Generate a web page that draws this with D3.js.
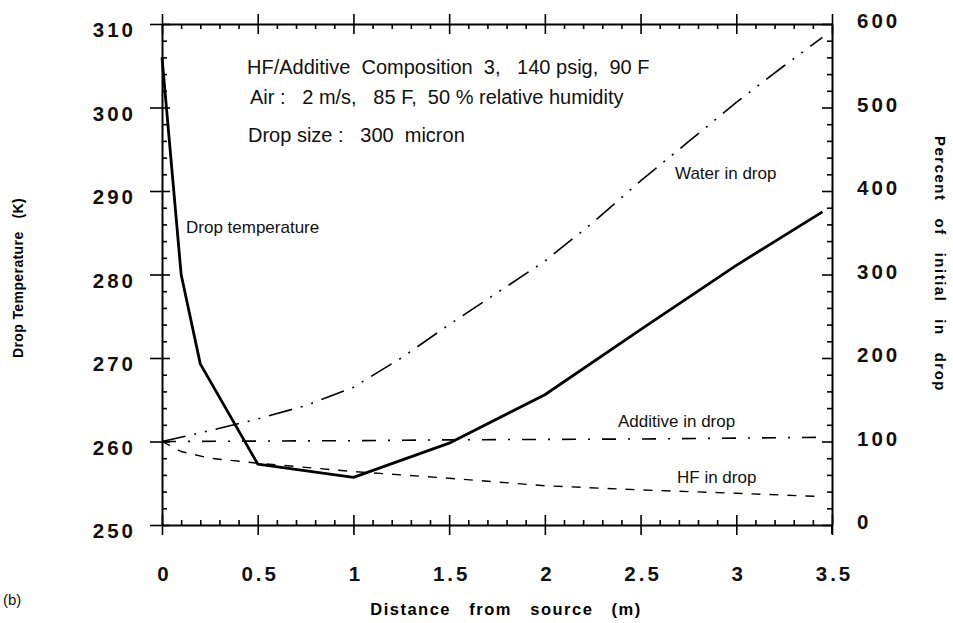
<!DOCTYPE html>
<html><head><meta charset="utf-8">
<script src="https://cdn.jsdelivr.net/npm/d3@7"></script>
<style>
body{margin:0;background:#fff;}
svg{display:block;font-family:"Liberation Sans",Arial,sans-serif;}
.tick text{font-family:"Liberation Sans",Arial,sans-serif;}
</style></head><body>
<svg id="c" width="953" height="623"></svg>
<script>
// ---- data ----
const xTicks = [0, 0.5, 1, 1.5, 2, 2.5, 3, 3.5];
const xTickLabels = ["0", "0.5", "1", "1.5", "2", "2.5", "3", "3.5"];
const leftTicks = [250, 260, 270, 280, 290, 300, 310];
const rightTicks = [0, 100, 200, 300, 400, 500, 600];

const tempX = [0, 0.1, 0.2, 0.5, 1.0, 1.5, 2.0, 2.5, 3.0, 3.45];
const tempY = [306, 280, 269.3, 257.3, 255.7, 259.8, 265.6, 273.4, 281.1, 287.5];

const waterX = [0, 0.25, 0.5, 0.75, 1.0, 1.25, 1.5, 1.75, 2.0, 2.25, 2.5, 2.75, 3.0, 3.25, 3.45];
const waterY = [100, 113, 127, 143, 165, 200, 240, 278, 316, 362, 412, 459, 506, 550, 584];

const addX = [0, 0.5, 1.0, 1.5, 2.0, 2.5, 3.0, 3.45];
const addY = [100, 100.5, 101, 102, 102.5, 103, 104, 105];

const hfX = [0, 0.1, 0.25, 0.5, 1.0, 1.5, 2.0, 2.5, 3.0, 3.45];
const hfY = [100, 88, 80, 74, 64, 56, 47, 42, 38, 34];

const annoLines = ["HF/Additive  Composition  3,   140 psig,  90 F",
                   "Air :   2 m/s,   85 F,  50 % relative humidity",
                   "Drop size :   300  micron"];

const nb = s => s.replace(/ /g, "\u00a0");

// ---- scales ----
const svg = d3.select("#c");
const x = d3.scaleLinear().domain([0, 3.5]).range([162, 832]);
const yL = d3.scaleLinear().domain([250, 310]).range([525, 24]);
const yR = d3.scaleLinear().domain([0, 600]).range([525, 24]);

const minorX = d3.range(0, 3.5001, 0.1).filter(v => Math.abs(v*2 - Math.round(v*2)) > 1e-6);
const minorL = d3.range(250, 310.001, 2).filter(v => v % 10 !== 0);
const minorR = d3.range(0, 600.001, 20).filter(v => v % 100 !== 0);

function styleAxis(g){
  g.select(".domain").attr("stroke","#000").attr("stroke-width",2);
  g.selectAll(".tick line").attr("stroke","#000").attr("stroke-width",1.6);
}
function noText(g){ g.selectAll("text").remove(); g.select(".domain").remove(); }

const tickFont = g => g.selectAll("text").attr("font-size",20.5).attr("font-weight","bold")
   .attr("fill","#111").style("letter-spacing","3px");

// bottom axis
svg.append("g").attr("transform",`translate(0,${yL(250)})`)
  .call(d3.axisBottom(x).tickValues(xTicks).tickFormat((d,i)=>xTickLabels[i]).tickSize(10).tickPadding(31).tickSizeOuter(0))
  .call(styleAxis).call(tickFont)
  .call(g=>g.selectAll("text").attr("dx","2"));
svg.append("g").attr("transform",`translate(0,${yL(250)})`)
  .call(d3.axisTop(x).tickValues(xTicks).tickSize(10)).call(noText).call(styleAxis);
svg.append("g").attr("transform",`translate(0,${yL(250)})`)
  .call(d3.axisTop(x).tickValues(minorX).tickSize(5)).call(noText).call(styleAxis);

// top axis
svg.append("g").attr("transform",`translate(0,${yL(310)})`)
  .call(d3.axisTop(x).tickValues(xTicks).tickSize(10).tickSizeOuter(0)).call(g=>g.selectAll("text").remove()).call(styleAxis);
svg.append("g").attr("transform",`translate(0,${yL(310)})`)
  .call(d3.axisBottom(x).tickValues(xTicks).tickSize(10)).call(noText).call(styleAxis);
svg.append("g").attr("transform",`translate(0,${yL(310)})`)
  .call(d3.axisBottom(x).tickValues(minorX).tickSize(5)).call(noText).call(styleAxis);

// left axis
svg.append("g").attr("transform",`translate(${x(0)},0)`)
  .call(d3.axisLeft(yL).tickValues(leftTicks).tickSize(12).tickPadding(14).tickSizeOuter(0))
  .call(styleAxis).call(tickFont)
  .call(g=>g.selectAll("text").attr("y",6));
svg.append("g").attr("transform",`translate(${x(0)},0)`)
  .call(d3.axisRight(yL).tickValues(leftTicks).tickSize(8)).call(noText).call(styleAxis);
svg.append("g").attr("transform",`translate(${x(0)},0)`)
  .call(d3.axisRight(yL).tickValues(minorL).tickSize(5)).call(noText).call(styleAxis);

// right axis
svg.append("g").attr("transform",`translate(${x(3.5)},0)`)
  .call(d3.axisRight(yR).tickValues(rightTicks).tickSize(0).tickPadding(25).tickSizeOuter(0))
  .call(styleAxis).call(tickFont)
  .call(g=>g.selectAll("text").attr("y",-3));
svg.append("g").attr("transform",`translate(${x(3.5)},0)`)
  .call(d3.axisLeft(yR).tickValues(rightTicks).tickSize(10)).call(noText).call(styleAxis);
svg.append("g").attr("transform",`translate(${x(3.5)},0)`)
  .call(d3.axisLeft(yR).tickValues(minorR).tickSize(5)).call(noText).call(styleAxis);
svg.append("line").attr("x1",x(3.5)).attr("x2",x(3.5)).attr("y1",yR(0)).attr("y2",yR(0)+9)
  .attr("stroke","#000").attr("stroke-width",2);

// ---- lines ----
const lineL = d3.line().x(d=>x(d[0])).y(d=>yL(d[1]));
const lineR = d3.line().x(d=>x(d[0])).y(d=>yR(d[1]));

svg.append("path").datum(d3.zip(waterX, waterY)).attr("d", lineR)
  .attr("fill","none").attr("stroke","#000").attr("stroke-width",1.6)
  .attr("stroke-dasharray","24,9,2,9,2,9");
svg.append("path").datum(d3.zip(addX, addY)).attr("d", lineR)
  .attr("fill","none").attr("stroke","#000").attr("stroke-width",1.6)
  .attr("stroke-dasharray","14,12,2,12");
svg.append("path").datum(d3.zip(hfX, hfY)).attr("d", lineR)
  .attr("fill","none").attr("stroke","#000").attr("stroke-width",1.4)
  .attr("stroke-dasharray","9,9");
svg.append("path").datum(d3.zip(tempX, tempY)).attr("d", lineL)
  .attr("fill","none").attr("stroke","#000").attr("stroke-width",2.8)
  .attr("stroke-linejoin","round");

// ---- annotations ----
const anno = svg.append("g").attr("font-size",20).attr("fill","#111");
anno.append("text").attr("x",247).attr("y",74).text(nb(annoLines[0]));
anno.append("text").attr("x",250).attr("y",104).text(nb(annoLines[1]));
anno.append("text").attr("x",248).attr("y",142).text(nb(annoLines[2]));

const lab = svg.append("g").attr("font-size",17).attr("fill","#111");
lab.append("text").attr("x",186).attr("y",233).text("Drop temperature");
lab.append("text").attr("x",675).attr("y",179).text("Water in drop");
lab.append("text").attr("x",618).attr("y",427).text("Additive in drop");
lab.append("text").attr("x",677).attr("y",483).text("HF in drop");

// axis titles
svg.append("text").attr("x",506).attr("y",615).attr("text-anchor","middle")
  .attr("font-size",16.5).attr("font-weight","bold").style("letter-spacing","1.5px")
  .text(nb("Distance   from   source   (m)"));
svg.append("text").attr("transform","translate(23,278) rotate(-90)").attr("text-anchor","middle")
  .attr("font-size",14).attr("font-weight","bold").style("letter-spacing","0.4px")
  .text(nb("Drop Temperature   (K)"));
svg.append("text").attr("transform","translate(935,264) rotate(90)").attr("text-anchor","middle")
  .attr("font-size",15).attr("font-weight","bold").style("letter-spacing","1.5px")
  .text(nb("Percent   of   initial   in   drop"));
svg.append("text").attr("x",3).attr("y",605).attr("font-size",15).attr("fill","#111").text("(b)");
</script></body></html>
